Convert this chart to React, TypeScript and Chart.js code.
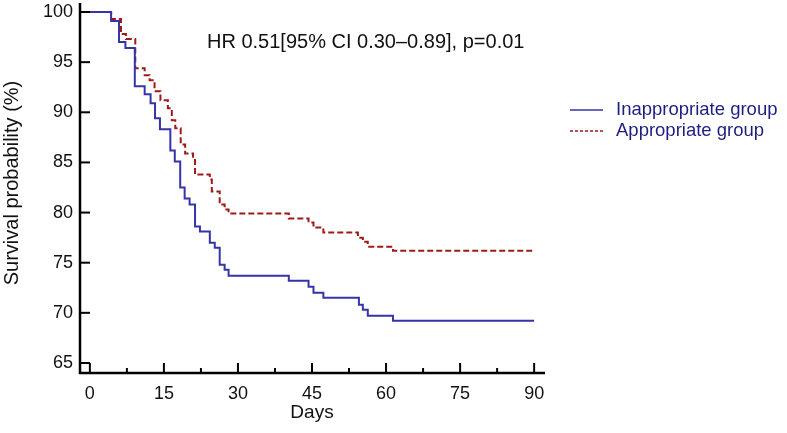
import { useEffect, useRef } from "react";
import { Chart, registerables } from "chart.js";
Chart.register(...registerables);

const inappropriateDays = [0, 4.3, 5.9, 7.2, 9.1, 11.1, 12.3, 13.2, 14.2, 16.3, 17.2, 18.3, 19.2, 20.2, 21.3, 22.3, 24.3, 25.3, 26.3, 27.3, 28.1, 40.3, 44.3, 45.3, 47.3, 54.5, 55.3, 56.3, 61.4, 90];
const inappropriateSurv = [100, 99.1, 97.0, 96.4, 92.6, 91.8, 90.9, 89.4, 88.3, 86.2, 85.1, 82.5, 81.4, 80.8, 78.6, 78.1, 77.0, 76.5, 74.8, 74.3, 73.7, 73.2, 72.6, 72.0, 71.5, 70.8, 70.3, 69.7, 69.2, 69.2];

const appropriateDays = [0, 4.3, 6.3, 7.3, 9.2, 11.1, 12.1, 13.1, 14.3, 15.8, 16.6, 17.3, 18.4, 19.3, 20.9, 21.3, 24.3, 24.7, 26.3, 27.3, 28.1, 40.3, 44.3, 45.3, 47.3, 54.3, 55.3, 56.3, 61.4, 90];
const appropriateSurv = [100, 99.3, 97.8, 97.3, 94.4, 93.7, 93.2, 92.1, 91.2, 90.4, 89.2, 88.4, 86.8, 85.9, 85.4, 83.8, 83.3, 82.1, 80.8, 80.3, 79.9, 79.4, 79.0, 78.5, 78.0, 77.5, 77.1, 76.6, 76.2, 76.2];

const xTicks = [0, 15, 30, 45, 60, 75, 90];
const xMinorTicks = [7.5, 22.5, 37.5, 52.5, 67.5, 82.5];
const yTicks = [65, 70, 75, 80, 85, 90, 95, 100];

const seriesNames = ["Inappropriate group", "Appropriate group"];
const annotation = "HR 0.51[95% CI 0.30\u20130.89], p=0.01";
const xTitle = "Days";
const yTitle = "Survival probability (%)";

const BLUE = "#3535a8";
const RED = "#9e1a1a";
const NAVY = "#1e1e80";
const FONT = "'Liberation Sans', Arial, sans-serif";

const axesPlugin = {
  id: "kmAxes",
  afterDraw(chart: any) {
    const ctx = chart.ctx;
    const xs = chart.scales.x;
    const ys = chart.scales.y;
    const a = chart.chartArea;
    ctx.save();
    ctx.strokeStyle = "#000";
    ctx.lineCap = "butt";
    ctx.lineWidth = 2.5;
    ctx.beginPath();
    ctx.moveTo(a.left, a.top);
    ctx.lineTo(a.left, a.bottom + 1.25);
    ctx.moveTo(a.left - 1.25, a.bottom);
    ctx.lineTo(a.right, a.bottom);
    ctx.stroke();

    ctx.lineWidth = 2;
    ctx.fillStyle = "#111";
    ctx.font = `18px ${FONT}`;
    ctx.textAlign = "right";
    ctx.textBaseline = "middle";
    yTicks.forEach((v) => {
      const y = ys.getPixelForValue(v);
      ctx.beginPath();
      ctx.moveTo(a.left, y);
      ctx.lineTo(a.left + 10, y);
      ctx.stroke();
      ctx.fillText(String(v), a.left - 7, y);
    });
    ctx.textAlign = "center";
    ctx.textBaseline = "top";
    xTicks.forEach((v) => {
      const x = xs.getPixelForValue(v);
      ctx.beginPath();
      ctx.moveTo(x, a.bottom);
      ctx.lineTo(x, a.bottom - 10);
      ctx.stroke();
      ctx.fillText(String(v), x, a.bottom + 12);
    });
    xMinorTicks.forEach((v) => {
      const x = xs.getPixelForValue(v);
      ctx.beginPath();
      ctx.moveTo(x, a.bottom);
      ctx.lineTo(x, a.bottom - 5);
      ctx.stroke();
    });

    // titles
    ctx.fillStyle = "#111";
    ctx.textAlign = "center";
    ctx.textBaseline = "middle";
    ctx.font = `19px ${FONT}`;
    ctx.fillText(xTitle, (xs.getPixelForValue(0) + xs.getPixelForValue(90)) / 2, 413);
    ctx.save();
    ctx.translate(12, 183);
    ctx.rotate(-Math.PI / 2);
    ctx.font = `20px ${FONT}`;
    ctx.fillText(yTitle, 0, 0);
    ctx.restore();

    // annotation
    ctx.textAlign = "left";
    ctx.font = `20px ${FONT}`;
    ctx.fillText(annotation, 207, 42);

    // legend
    const legY = [110, 131];
    ctx.lineWidth = 1.5;
    ctx.strokeStyle = BLUE;
    ctx.beginPath();
    ctx.moveTo(570, legY[0]);
    ctx.lineTo(603, legY[0]);
    ctx.stroke();
    ctx.strokeStyle = RED;
    ctx.setLineDash([3, 2]);
    ctx.beginPath();
    ctx.moveTo(570, legY[1]);
    ctx.lineTo(603, legY[1]);
    ctx.stroke();
    ctx.setLineDash([]);
    ctx.fillStyle = NAVY;
    ctx.font = `18.5px ${FONT}`;
    ctx.fillText(seriesNames[0], 616, legY[0]);
    ctx.fillText(seriesNames[1], 616, legY[1]);
    ctx.restore();
  },
};

export default function App() {
  const ref = useRef<HTMLCanvasElement | null>(null);
  useEffect(() => {
    document.body.style.margin = "0";
    const canvas = ref.current;
    if (!canvas) return;
    const toPts = (xs: number[], ys: number[]) => xs.map((x, i) => ({ x, y: ys[i] }));
    const chart = new Chart(canvas, {
      type: "line",
      data: {
        datasets: [
          {
            label: seriesNames[0],
            data: toPts(inappropriateDays, inappropriateSurv),
            borderColor: BLUE,
            borderWidth: 2,
            stepped: "before",
            pointRadius: 0,
            fill: false,
          },
          {
            label: seriesNames[1],
            data: toPts(appropriateDays, appropriateSurv),
            borderColor: RED,
            borderWidth: 2,
            borderDash: [6, 3],
            stepped: "before",
            pointRadius: 0,
            fill: false,
          },
        ],
      },
      options: {
        animation: false,
        responsive: false,
        layout: { padding: { left: 80, right: 242, top: 3, bottom: 60 } },
        scales: {
          x: { type: "linear", min: -2, max: 92.2, display: false },
          y: { type: "linear", min: 64, max: 100.9, display: false },
        },
        plugins: { legend: { display: false }, tooltip: { enabled: false } },
      },
      plugins: [axesPlugin],
    });
    return () => chart.destroy();
  }, []);
  return (
    <div style={{ position: "fixed", left: 0, top: 0, width: 787, height: 433, background: "#fff" }}>
      <canvas ref={ref} width={787} height={433} />
    </div>
  );
}
